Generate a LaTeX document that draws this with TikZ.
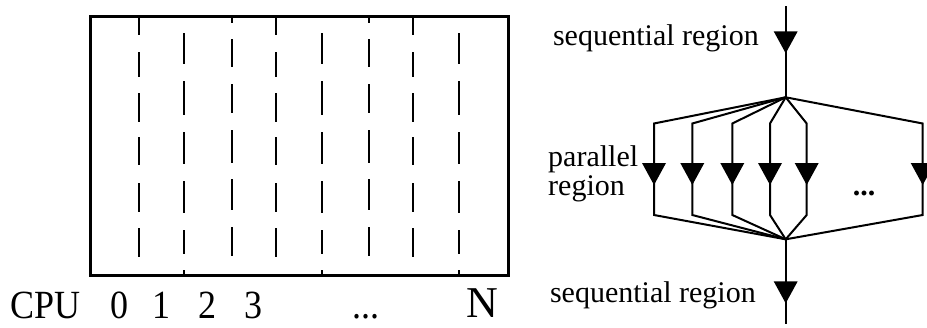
\documentclass[tikz,border=0pt]{standalone}
\usepackage{fontspec}
\setmainfont{Liberation Serif}
\newfontfamily\cpufont[FakeStretch=0.9]{Liberation Serif}
\begin{document}
\begin{tikzpicture}[x=1pt,y=-1pt,
  frame/.style={line width=2.5pt},
  lane/.style={line width=2.2pt},
  flow/.style={line width=2pt},
  label/.style={inner sep=0pt,font=\fontsize{30}{30}\selectfont},
  cpulabel/.style={inner sep=0pt,text depth=0pt,font=\cpufont\fontsize{40}{40}\selectfont},
  headdown/.pic={\fill (-12,-22) -- (12,-22) -- (0,0) -- cycle;}]
\useasboundingbox (0,0) rectangle (927,327);

% processor time lines inside the frame
\node[draw,frame,minimum width=418pt,minimum height=259pt,inner sep=0pt,anchor=north west]
  (frame) at (89,15) {};
\foreach \x in {139,276,413}
  \foreach \a/\b in {15/35,52/77,93/122,137/165,183/212,228/257}
    \draw[lane] (\x,\a) -- (\x,\b);
\foreach \x in {184,322,459}
  \foreach \a/\b in {33/64,81/115,132/164,181/213,230/254,270/274}
    \draw[lane] (\x,\a) -- (\x,\b);
\foreach \x in {232,369}
  \foreach \a/\b in {15/23,39/67,84/113,130/163,179/210,227/256}
    \draw[lane] (\x,\a) -- (\x,\b);

% processor numbering
\node[cpulabel,anchor=base west] (cpu) at (10,318.5) {CPU};
\node[cpulabel,anchor=base] (c0) at (119.2,318.5) {0};
\node[cpulabel,anchor=base] (c1) at (161.2,318.5) {1};
\node[cpulabel,anchor=base] (c2) at (207.7,318.5) {2};
\node[cpulabel,anchor=base] (c3) at (253.3,318.5) {3};
\node[cpulabel,anchor=base] (cdots) at (366,318) {...};
\node[inner sep=0pt,text depth=0pt,font=\fontsize{44}{44}\selectfont,anchor=base] (cN) at (482.5,317.7) {N};

% fork / join flow
\coordinate (in) at (785.7,6);
\coordinate (fork) at (785.7,97.3);
\coordinate (join) at (785.7,239.3);
\coordinate (out) at (785.7,324);
\draw[flow] (in) -- (fork);
\draw[flow] (join) -- (out);
\pic at (785.7,53.3) {headdown};
\pic at (785.7,303.3) {headdown};

\begin{scope}
\clip (0,0) rectangle (927,327);
\foreach \x [count=\i] in {654,692.3,732.3,770,806.7,922.7} {
  \coordinate (t\i) at (\x,123.5);
  \coordinate (b\i) at (\x,215);
  \draw[flow] (fork) -- (t\i) -- (b\i) -- (join);
  \pic at (\x,185) {headdown};
}
\end{scope}

% labels
\node[label,anchor=base east] (seqin) at (759,45) {sequential region};
\node[label,anchor=base east] (seqout) at (756,302.7) {sequential region};
\node[label,text depth=0pt,anchor=base west] (par1) at (548,166) {parallel};
\node[label,text height=13pt,anchor=base west] (par2) at (548,195) {region};
\node[label,font=\bfseries\fontsize{30}{30}\selectfont,anchor=base] (pdots) at (864,195) {...};
\end{tikzpicture}
\end{document}
